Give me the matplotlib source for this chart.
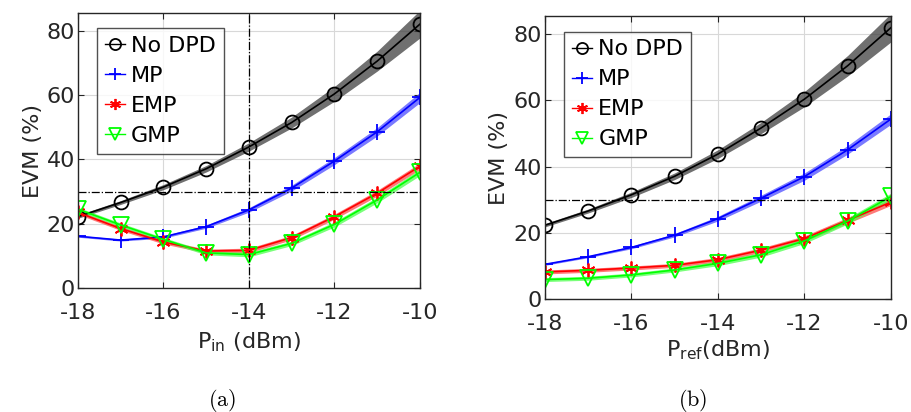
import numpy as np
import matplotlib
matplotlib.use("Agg")
import matplotlib.pyplot as plt

plt.rcParams['font.family'] = ['DejaVu Sans']
plt.rcParams['mathtext.fontset'] = 'custom'
plt.rcParams['mathtext.rm'] = 'DejaVu Sans'
plt.rcParams['axes.unicode_minus'] = False

p_in = [-18, -17, -16, -15, -14, -13, -12, -11, -10]

# (a) EVM vs P_in
a_nodpd = [22.2, 26.6, 31.4, 37.1, 43.9, 51.5, 60.4, 70.6, 82.1]
a_mp = [16.1, 14.9, 15.9, 19.1, 24.3, 31.1, 39.5, 48.6, 59.3]
a_emp = [23.5, 18.5, 14.3, 11.5, 11.7, 15.7, 22.2, 29.5, 37.9]
a_gmp = [24.5, 19.6, 15.1, 10.9, 10.4, 13.9, 19.8, 27.4, 36.0]

# (b) EVM vs P_ref
b_nodpd = [22.3, 26.6, 31.5, 37.1, 43.8, 51.7, 60.4, 70.5, 82.0]
b_mp = [10.5, 12.8, 15.6, 19.3, 24.3, 30.5, 37.0, 45.1, 54.4]
b_emp = [8.2, 8.7, 9.4, 10.2, 11.9, 14.8, 18.3, 23.8, 29.3]
b_gmp = [5.9, 6.3, 7.3, 8.8, 10.8, 13.4, 17.6, 23.6, 31.0]

# spread (half width of shaded band)
band_nodpd = [0.5, 0.6, 0.8, 1.0, 1.3, 1.7, 2.3, 3.1, 4.3]
band_mp = [0.3, 0.3, 0.4, 0.5, 0.7, 0.9, 1.1, 1.3, 1.6]
band_emp = [0.6, 0.6, 0.6, 0.6, 0.7, 0.7, 0.8, 0.9, 1.0]
band_gmp = [0.6, 0.6, 0.6, 0.6, 0.7, 0.7, 0.8, 0.9, 1.0]

evm_limit = 30
p_mark = -14

fig = plt.figure(figsize=(9.11, 4.12), dpi=100)
ax1 = fig.add_axes([0.0856, 0.301, 0.3754, 0.667])
ax2 = fig.add_axes([0.598, 0.274, 0.380, 0.687])

def draw(ax, nodpd, mp, emp, gmp):
    x = np.array(p_in)
    series = [
        (nodpd, band_nodpd, 'k', '#404040', 'o', 10, 'No DPD'),
        (mp, band_mp, '#0000ff', '#4d4dff', '+', 11, 'MP'),
        (emp, band_emp, '#ff0000', '#ff4d4d', (6, 2, 0), 10, 'EMP'),
        (gmp, band_gmp, '#00ff00', '#4dff4d', 'v', 11, 'GMP'),
    ]
    for y, b, c, fc, m, ms, lab in series:
        y = np.array(y)
        b = np.array(b)
        ax.fill_between(x, y - b, y + b, color=fc, alpha=0.75, lw=0)
    for y, b, c, fc, m, ms, lab in series:
        ax.plot(x, y, color=c, lw=1.2, marker=m, ms=ms, mfc='none',
                mew=1.3, label=lab)
    ax.axhline(evm_limit, color='k', ls='-.', lw=0.9)
    ax.set_xlim(-18, -10)
    ax.set_ylim(0, 85.5)
    ax.set_xticks([-18, -16, -14, -12, -10])
    ax.set_yticks([0, 20, 40, 60, 80])
    ax.grid(True, color='#d8d8d8', lw=0.8)
    ax.set_axisbelow(True)
    ax.tick_params(direction='in', top=True, right=True, labelsize=16,
                   colors='#262626', length=4)
    ax.tick_params(axis='x', pad=11)
    ax.tick_params(axis='y', pad=2)
    for s in ax.spines.values():
        s.set_color('#262626')
        s.set_linewidth(1.0)
    ax.set_ylabel('EVM (%)', fontsize=16, color='#262626', labelpad=3)
    leg = ax.legend(loc='upper left', bbox_to_anchor=(0.055, 0.945),
                    fontsize=16, frameon=True, fancybox=False,
                    handlelength=0.9, handletextpad=0.3,
                    borderpad=0.35, labelspacing=0.45, borderaxespad=0,
                    markerscale=0.8)
    leg.get_frame().set_edgecolor('#262626')
    leg.get_frame().set_linewidth(1.0)
    for h in leg.legend_handles:
        h.set_linewidth(1.0)

draw(ax1, a_nodpd, a_mp, a_emp, a_gmp)
ax1.axvline(p_mark, color='k', ls='-.', lw=0.9)
ax1.set_xlabel(r'P$_{\mathregular{in}}$ (dBm)', fontsize=16, color='#262626',
               labelpad=5)
draw(ax2, b_nodpd, b_mp, b_emp, b_gmp)
ax2.set_xlabel(r'P$_{\mathregular{ref}}$(dBm)', fontsize=16, color='#262626',
               labelpad=3)

fig.text(0.2437, 0.015, r'$\mathrm{(a)}$', math_fontfamily='cm', fontsize=16, ha='center')
fig.text(0.7607, 0.015, r'$\mathrm{(b)}$', math_fontfamily='cm', fontsize=16, ha='center')

fig.savefig('out.png', dpi=100)
